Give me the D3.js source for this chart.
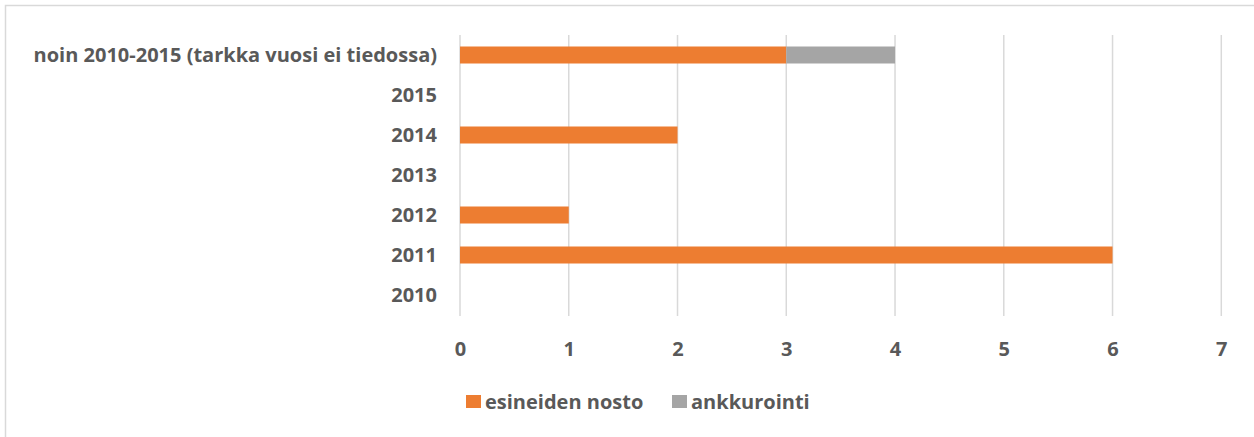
<!DOCTYPE html>
<html><head><meta charset="utf-8">
<script src="https://cdn.jsdelivr.net/npm/d3@7"></script>
<style>
html,body{margin:0;padding:0;background:#fff;}
svg{display:block;}
text{font-family:"Open Sans",sans-serif;font-weight:bold;fill:#595959;}
</style></head><body>
<svg id="c" width="1254" height="437"></svg>
<script>
const categories = ["2010","2011","2012","2013","2014","2015","noin 2010-2015 (tarkka vuosi ei tiedossa)"];
const esineidenNosto = [0,6,1,0,2,0,3];
const ankkurointi = [0,0,0,0,0,0,1];
const seriesNames = ["esineiden nosto","ankkurointi"];
const xTicks = [0,1,2,3,4,5,6,7];

const colors = ["#ED7D31","#A5A5A5"];
const svg = d3.select("#c");
svg.append("rect").attr("x",5.5).attr("y",5.5).attr("width",1300).attr("height",500)
  .attr("fill","none").attr("stroke","#D9D9D9").attr("stroke-width",1.5);

const x = d3.scaleLinear().domain([0,7]).range([460,1221.3]);
const y = d3.scaleBand().domain(categories.slice().reverse()).range([35,315]).paddingInner(0.575).paddingOuter(0.2875);

// gridlines
svg.append("g").selectAll("line").data(xTicks).join("line")
  .attr("x1",d=>x(d)).attr("x2",d=>x(d)).attr("y1",35).attr("y2",316)
  .attr("stroke","#D9D9D9").attr("stroke-width",1.5);

const table = categories.map((c,i)=>({cat:c,"esineiden nosto":esineidenNosto[i],"ankkurointi":ankkurointi[i]}));
const stacked = d3.stack().keys(seriesNames)(table);
svg.append("g").selectAll("g").data(stacked).join("g").attr("fill",(d,i)=>colors[i])
  .selectAll("rect").data(d=>d.filter(p=>p[1]-p[0]>0)).join("rect")
  .attr("x",d=>x(d[0])).attr("width",d=>x(d[1])-x(d[0]))
  .attr("y",d=>y(d.data.cat)+y.bandwidth()/2-8.5).attr("height",17);

// x axis labels
const xa = d3.axisBottom(x).tickValues(xTicks).tickFormat(d3.format("d")).tickSize(0).tickPadding(0);
const gx = svg.append("g").attr("transform","translate(0,349)").call(xa);
gx.select(".domain").remove();
gx.selectAll("text").attr("y",0).attr("dy","0.35em").style("font-size","20px").attr("fill","#595959");

// y axis labels
const ya = d3.axisLeft(y).tickSize(0).tickPadding(0);
const gy = svg.append("g").attr("transform","translate(437,0)").call(ya);
gy.select(".domain").remove();
gy.selectAll("text").attr("dy","0.35em").style("font-size","20px").attr("fill","#595959");

// legend
const leg = svg.append("g");
const lx = [466,672];
seriesNames.forEach((s,i)=>{
  leg.append("rect").attr("x",lx[i]).attr("y",395).attr("width",15).attr("height",13).attr("fill",colors[i]);
  leg.append("text").attr("x",lx[i]+19).attr("y",402).attr("dy","0.35em").style("font-size","20px").text(s);
});
</script></body></html>
